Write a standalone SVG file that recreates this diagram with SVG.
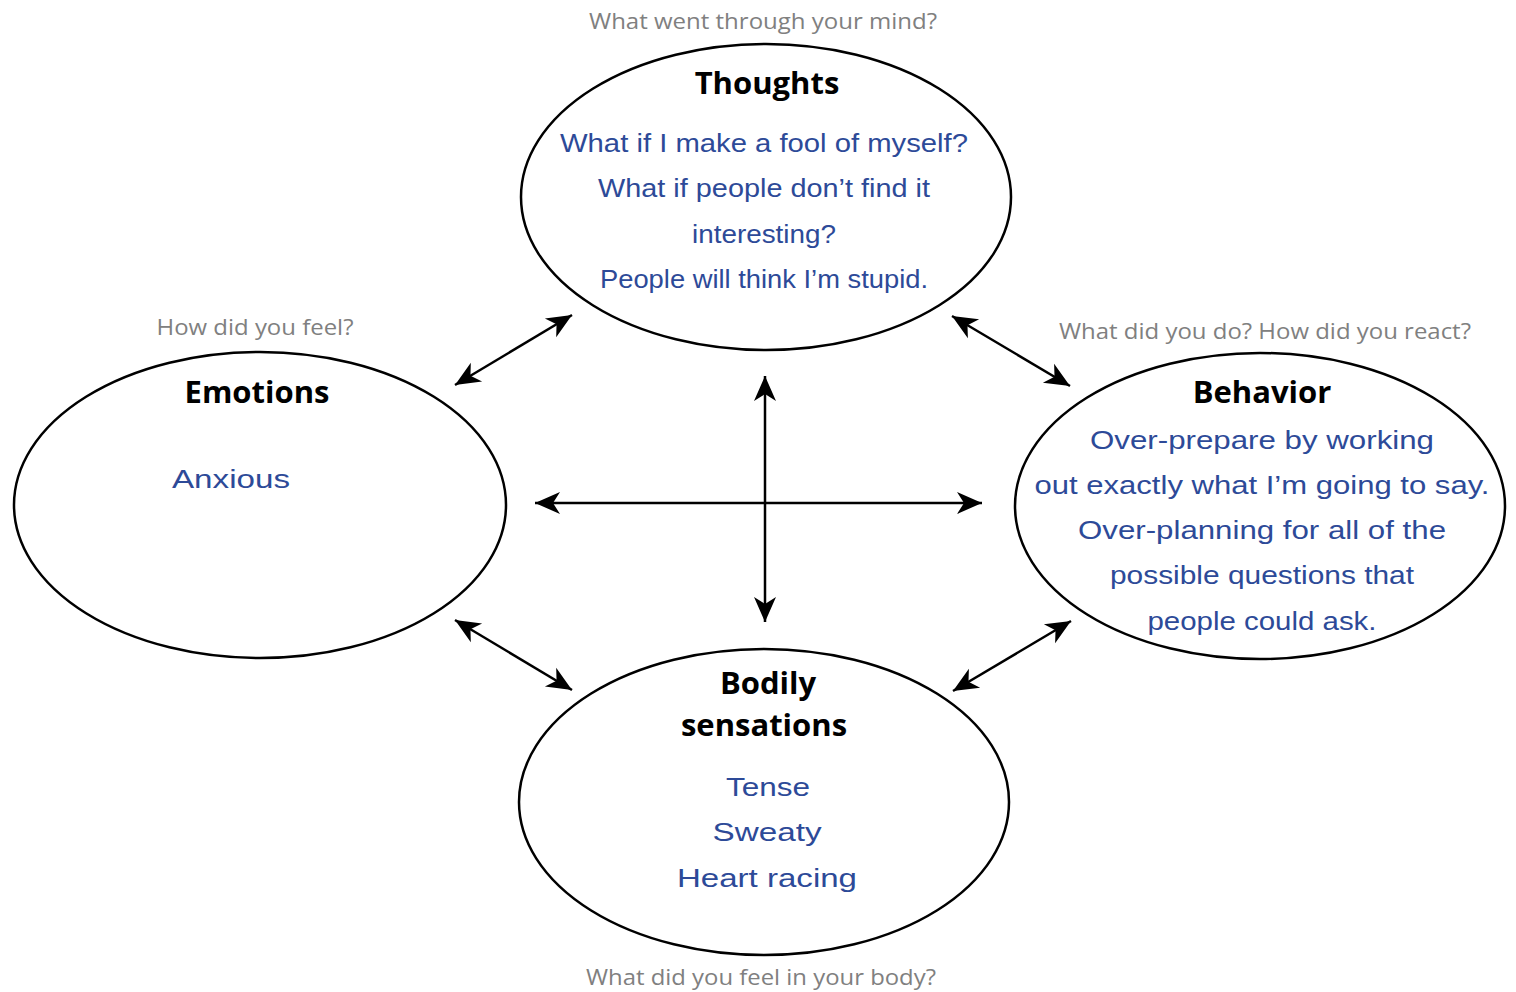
<svg xmlns="http://www.w3.org/2000/svg" width="1516" height="992" viewBox="0 0 1516 992">
  <style>
    .oval { fill: #ffffff; stroke: #000000; stroke-width: 2.5; }
    .title { font-family: "Open Sans", "Liberation Sans", sans-serif; font-weight: bold; font-size: 31px; fill: #000000; text-anchor: middle; }
    .prompt { font-family: "Open Sans", "Liberation Sans", sans-serif; font-size: 22px; fill: #808080; text-anchor: middle; }
    .note { font-family: "Liberation Sans", "DejaVu Sans", sans-serif; font-size: 26px; fill: #2d4a98; text-anchor: middle; }
    .link { stroke: #000000; stroke-width: 2.5; fill: none; marker-start: url(#head); marker-end: url(#head); }
  </style>
  <defs>
    <marker id="head" viewBox="-26 -13 28 26" refX="0" refY="0" markerWidth="28" markerHeight="26" markerUnits="userSpaceOnUse" orient="auto-start-reverse">
      <path d="M0,0 L-25,-11 L-18,0 L-25,11 Z" fill="#000000"/>
    </marker>
  </defs>
  <rect width="1516" height="992" fill="#ffffff"/>

  <!-- two-way connectors between the four areas -->
  <g id="connectors">
    <line class="link" x1="455" y1="385" x2="572" y2="315"/>
    <line class="link" x1="952" y1="316" x2="1070" y2="386"/>
    <line class="link" x1="455" y1="620" x2="572" y2="690"/>
    <line class="link" x1="953" y1="691" x2="1071" y2="621"/>
    <line class="link" x1="765" y1="376" x2="765" y2="622"/>
    <line class="link" x1="535" y1="503" x2="982" y2="503"/>
  </g>

  <g id="thoughts">
    <text class="prompt" x="763" y="29" textLength="348" lengthAdjust="spacingAndGlyphs">What went through your mind?</text>
    <ellipse class="oval" cx="766" cy="197" rx="245" ry="153"/>
    <text class="title" x="767" y="94">Thoughts</text>
    <text class="note" x="764" y="152" textLength="408" lengthAdjust="spacingAndGlyphs">What if I make a fool of myself?</text>
    <text class="note" x="764" y="197" textLength="332" lengthAdjust="spacingAndGlyphs">What if people don’t find it</text>
    <text class="note" x="764" y="243" textLength="144" lengthAdjust="spacingAndGlyphs">interesting?</text>
    <text class="note" x="764" y="288" textLength="328" lengthAdjust="spacingAndGlyphs">People will think I’m stupid.</text>
  </g>

  <g id="emotions">
    <text class="prompt" x="255" y="335" textLength="197" lengthAdjust="spacingAndGlyphs">How did you feel?</text>
    <ellipse class="oval" cx="260" cy="505" rx="246" ry="153"/>
    <text class="title" x="257" y="403">Emotions</text>
    <text class="note" x="231" y="488" textLength="118" lengthAdjust="spacingAndGlyphs">Anxious</text>
  </g>

  <g id="behavior">
    <text class="prompt" x="1265" y="339" textLength="412" lengthAdjust="spacingAndGlyphs">What did you do? How did you react?</text>
    <ellipse class="oval" cx="1260" cy="506" rx="245" ry="153"/>
    <text class="title" x="1262" y="403">Behavior</text>
    <text class="note" x="1262" y="449" textLength="344" lengthAdjust="spacingAndGlyphs">Over-prepare by working</text>
    <text class="note" x="1262" y="494" textLength="455" lengthAdjust="spacingAndGlyphs">out exactly what I’m going to say.</text>
    <text class="note" x="1262" y="539" textLength="368" lengthAdjust="spacingAndGlyphs">Over-planning for all of the</text>
    <text class="note" x="1262" y="584" textLength="304" lengthAdjust="spacingAndGlyphs">possible questions that</text>
    <text class="note" x="1262" y="630" textLength="229" lengthAdjust="spacingAndGlyphs">people could ask.</text>
  </g>

  <g id="bodily">
    <ellipse class="oval" cx="764" cy="802" rx="245" ry="153"/>
    <text class="title" x="768" y="694">Bodily</text>
    <text class="title" x="764" y="736">sensations</text>
    <text class="note" x="768" y="796" textLength="84" lengthAdjust="spacingAndGlyphs">Tense</text>
    <text class="note" x="767" y="841" textLength="109" lengthAdjust="spacingAndGlyphs">Sweaty</text>
    <text class="note" x="767" y="887" textLength="180" lengthAdjust="spacingAndGlyphs">Heart racing</text>
    <text class="prompt" x="761" y="985" textLength="350" lengthAdjust="spacingAndGlyphs">What did you feel in your body?</text>
  </g>
</svg>
